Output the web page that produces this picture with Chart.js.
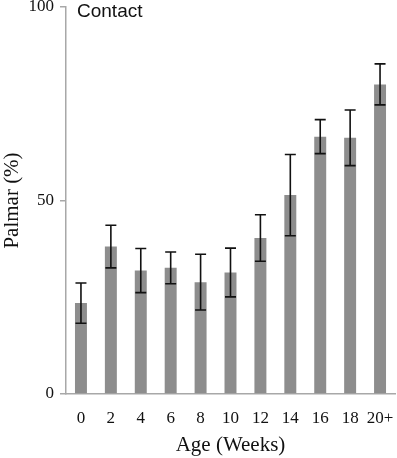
<!DOCTYPE html>
<html lang="en">
<head>
    <meta charset="UTF-8">
    <title>Palmar - Contact</title>
    <script src="https://cdn.jsdelivr.net/npm/chart.js"></script>
    <style>
        html, body { margin: 0; padding: 0; background: #fff; }
        .chartBox { width: 397px; height: 458px; }
    </style>
</head>
<body>
    <div class="chartBox">
        <canvas id="palmarChart" width="397" height="458"></canvas>
    </div>
    <script>
        // Data
        const ages = ['0', '2', '4', '6', '8', '10', '12', '14', '16', '18', '20+'];
        const palmar = [23.5, 38.1, 31.9, 32.6, 28.9, 31.4, 40.3, 51.4, 66.5, 66.2, 80.0];
        const errors = [5.2, 5.5, 5.7, 4.1, 7.2, 6.3, 6.0, 10.5, 4.4, 7.2, 5.3];
        const yTicks = [0, 50, 100];

        const serif = "'Liberation Serif', 'Times New Roman', serif";

        // Draws the error bars using the chart scales
        const errorBars = {
            id: 'errorBars',
            afterDatasetsDraw(chart) {
                const ctx = chart.ctx;
                const x = chart.scales.x;
                const y = chart.scales.y;
                ctx.save();
                ctx.strokeStyle = '#111';
                ctx.lineWidth = 1.6;
                palmar.forEach((v, i) => {
                    const px = x.getPixelForValue(i);
                    const top = y.getPixelForValue(v + errors[i]);
                    const bot = y.getPixelForValue(v - errors[i]);
                    ctx.beginPath();
                    ctx.moveTo(px, top); ctx.lineTo(px, bot);
                    ctx.moveTo(px - 5.5, top); ctx.lineTo(px + 5.5, top);
                    ctx.moveTo(px - 5.5, bot); ctx.lineTo(px + 5.5, bot);
                    ctx.stroke();
                });
                ctx.restore();
            }
        };

        // Panel label in the top-left corner
        const panelLabel = {
            id: 'panelLabel',
            afterDraw(chart) {
                const ctx = chart.ctx;
                ctx.save();
                ctx.fillStyle = '#111';
                ctx.font = "19px 'Liberation Sans', Arial, sans-serif";
                ctx.textBaseline = 'middle';
                ctx.fillText('Contact', chart.chartArea.left + 11, chart.chartArea.top + 5);
                ctx.restore();
            }
        };

        new Chart(document.getElementById('palmarChart'), {
            type: 'bar',
            data: {
                labels: ages,
                datasets: [{
                    data: palmar,
                    backgroundColor: '#8d8d8d',
                    borderWidth: 0,
                    categoryPercentage: 1,
                    barPercentage: 0.4
                }]
            },
            options: {
                responsive: false,
                animation: false,
                events: [],
                layout: { padding: { top: 7, right: 2, left: 0, bottom: 0 } },
                plugins: {
                    legend: { display: false },
                    tooltip: { enabled: false }
                },
                scales: {
                    x: {
                        grid: { drawOnChartArea: false, drawTicks: false },
                        border: { color: '#a8a8a8', width: 1.5 },
                        ticks: {
                            color: '#111',
                            padding: 14,
                            font: { family: serif, size: 17 },
                            maxRotation: 0,
                            autoSkip: false
                        },
                        title: {
                            display: true,
                            text: 'Age (Weeks)',
                            color: '#111',
                            font: { family: serif, size: 21 },
                            padding: { top: 0, bottom: 0 }
                        },
                        afterFit(scale) {
                            scale.height = 64;
                            scale.paddingLeft = 0;
                            scale.paddingRight = 0;
                        }
                    },
                    y: {
                        min: 0,
                        max: 100,
                        afterBuildTicks(scale) {
                            scale.ticks = yTicks.map(v => ({ value: v }));
                        },
                        grid: {
                            drawOnChartArea: false,
                            drawTicks: true,
                            tickLength: 6,
                            color: '#a8a8a8',
                            lineWidth: 1.5
                        },
                        border: { color: '#a8a8a8', width: 1.5 },
                        ticks: {
                            color: '#111',
                            padding: 6,
                            font: { family: serif, size: 17 }
                        },
                        title: {
                            display: true,
                            text: 'Palmar (%)',
                            color: '#111',
                            font: { family: serif, size: 21 },
                            padding: { top: 0, bottom: 0 }
                        },
                        afterFit(scale) {
                            scale.width = 66;
                            scale.paddingTop = 0;
                            scale.paddingBottom = 0;
                        }
                    }
                }
            },
            plugins: [errorBars, panelLabel]
        });
    </script>
</body>
</html>
